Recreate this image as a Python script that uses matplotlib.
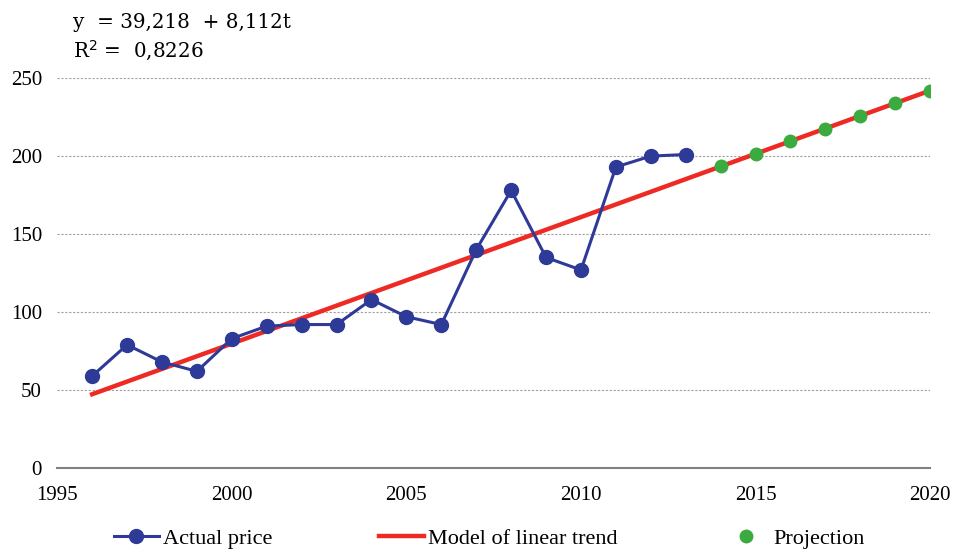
import numpy as np
import matplotlib.pyplot as plt

years_actual = [1996, 1997, 1998, 1999, 2000, 2001, 2002, 2003, 2004, 2005,
                2006, 2007, 2008, 2009, 2010, 2011, 2012, 2013]
price_actual = [59, 79, 68, 62, 83, 91, 92, 92, 108, 97,
                92, 140, 178, 135, 127, 193, 200, 201]

a, b = 39.218, 8.112
years_trend = list(range(1996, 2021))
years_proj = list(range(2014, 2021))

trend = [a + b * (yr - 1995) for yr in years_trend]
proj = [a + b * (yr - 1995) for yr in years_proj]

plt.rcParams['font.family'] = ['Liberation Serif', 'DejaVu Serif']

fig = plt.figure(figsize=(9.54, 5.5), dpi=100)
ax = fig.add_axes([0.06, 0.149, 0.915, 0.709])

ax.plot(years_trend, trend, color='#EE2A24', lw=3.2, label='Model of linear trend', zorder=2)
ax.plot(years_actual, price_actual, color='#2E3A97', lw=2.2, marker='o', ms=10,
        label='Actual price', zorder=3)
ax.plot(years_proj, proj, ls='none', marker='o', ms=9, color='#3BAA3F',
        label='Projection', zorder=4)

ax.set_xlim(1995, 2020)
ax.set_ylim(0, 250)
ax.set_xticks([1995, 2000, 2005, 2010, 2015, 2020])
ax.set_yticks([0, 50, 100, 150, 200, 250])
ax.tick_params(length=0, labelsize=15, pad=11)
ax.tick_params(axis='x', pad=13)
for s in ['top', 'right', 'left']:
    ax.spines[s].set_visible(False)
ax.spines['bottom'].set_color('#808080')
ax.spines['bottom'].set_linewidth(1.5)
for yv in [50, 100, 150, 200, 250]:
    ax.axhline(yv, color='#A0A0A0', lw=0.8, ls=(0, (2, 1.5)), zorder=1)

fig.text(0.076, 0.96, 'y  = 39,218  + 8,112t', fontsize=14.3, family='DejaVu Serif', va='center')
fig.text(0.076, 0.908, r'R$^2$ =  0,8226', fontsize=14.3, family='DejaVu Serif', va='center')

h, l = ax.get_legend_handles_labels()
order = [1, 0, 2]
fig.legend([h[i] for i in order], [l[i] for i in order], loc='lower center',
           bbox_to_anchor=(0.513, -0.035), ncol=3, frameon=False, fontsize=16,
           columnspacing=4.8, handlelength=2.0, handletextpad=0.2)

fig.savefig('out.png', dpi=100)
